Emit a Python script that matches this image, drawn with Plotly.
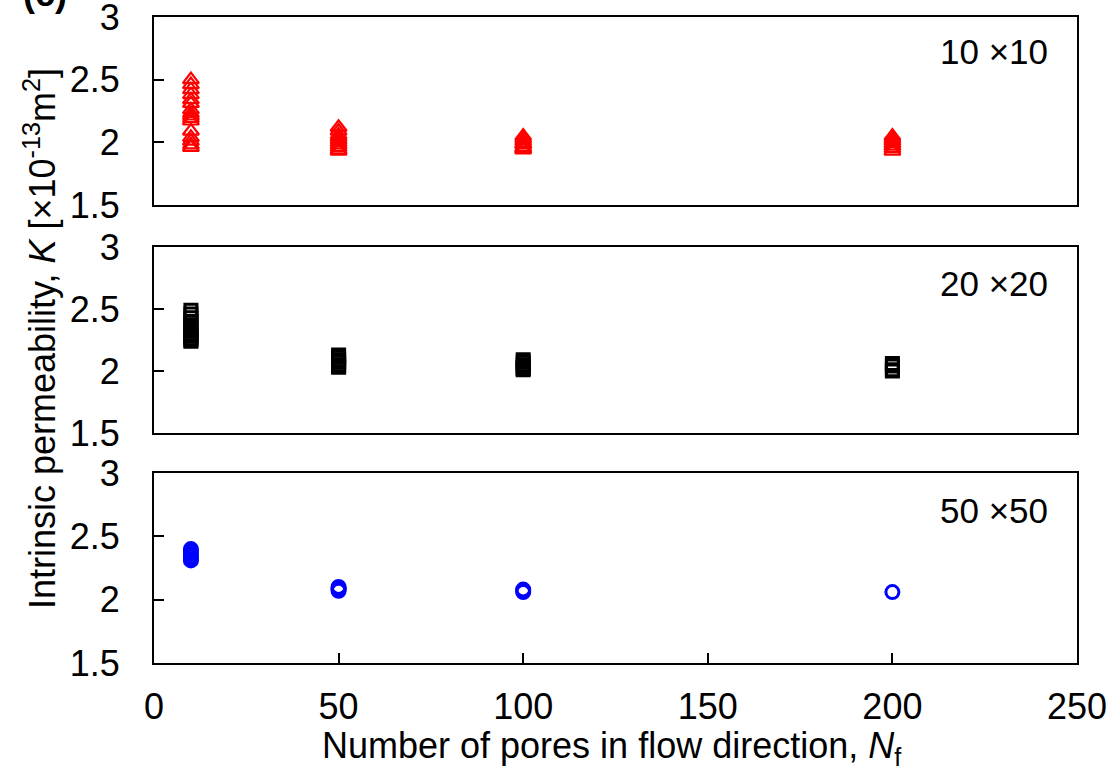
import plotly.graph_objects as go

# ---------------- data ----------------
Nf = [10, 50, 100, 200]

# 10x10 network (red open triangles)
K10_at10 = [2.50, 2.46, 2.42, 2.38, 2.34, 2.31, 2.26, 2.23, 2.21, 2.19, 2.17, 2.09, 2.04, 2.01, 1.98, 1.96]
K10_at50 = [2.12, 2.09, 2.06, 2.04, 2.02, 2.00, 1.98, 1.96, 1.94, 1.93]
K10_at100 = [2.05, 2.03, 2.01, 1.99, 1.98, 1.96, 1.95, 1.94]
K10_at200 = [2.05, 2.03, 2.01, 1.99, 1.97, 1.95, 1.93]

# 20x20 network (black open squares)
K20_at10 = [2.49, 2.46, 2.43, 2.40, 2.37, 2.35, 2.32, 2.30, 2.28, 2.26, 2.25, 2.24]
K20_at50 = [2.13, 2.11, 2.09, 2.07, 2.05, 2.04, 2.03]
K20_at100 = [2.09, 2.07, 2.05, 2.03, 2.02, 2.01]
K20_at200 = [2.06, 2.04, 2.01, 2.00]

# 50x50 network (blue open circles)
K50_at10 = [2.40, 2.38, 2.36, 2.34, 2.32, 2.31]
K50_at50 = [2.10, 2.09, 2.08, 2.07]
K50_at100 = [2.08, 2.07, 2.06]
K50_at200 = [2.06]

panel_labels = ["10 \u00d710", "20 \u00d720", "50 \u00d750"]
y_ticks = [1.5, 2, 2.5, 3]
y_ticktext = ["1.5", "2", "2.5", "3"]
x_ticks = [0, 50, 100, 150, 200, 250]
x_ticktext = ["0", "50", "100", "150", "200", "250"]

panels = [
    ([K10_at10, K10_at50, K10_at100, K10_at200], "triangle-up-open", "#ff0000", 14, 2.2),
    ([K20_at10, K20_at50, K20_at100, K20_at200], "square-open", "#000000", 12, 3),
    ([K50_at10, K50_at50, K50_at100, K50_at200], "circle-open", "#0000ff", 13, 3),
]

FONT = "Liberation Sans, Arial, sans-serif"

fig = go.Figure()
for i, (groups, sym, col, sz, lw) in enumerate(panels):
    xs, ys = [], []
    for n, vals in zip(Nf, groups):
        xs += [n] * len(vals)
        ys += vals
    suffix = "" if i == 0 else str(i + 1)
    fig.add_trace(go.Scatter(
        x=xs, y=ys, mode="markers",
        marker=dict(symbol=sym, color=col, size=sz, line=dict(color=col, width=lw)),
        xaxis="x" + suffix, yaxis="y" + suffix, showlegend=False, hoverinfo="skip",
    ))

# layout geometry (paper fractions)
domains = [[0.709, 1.0], [0.356, 0.644], [0.0, 0.294]]

axis_common = dict(showline=True, mirror=True, linecolor="black", linewidth=2,
                   showgrid=False, zeroline=False, automargin=False,
                   ticklabeloverflow="allow")

layout = dict(
    width=1119, height=771,
    margin=dict(l=154, r=42, t=17, b=108),
    paper_bgcolor="white", plot_bgcolor="rgba(0,0,0,0)",
    font=dict(family=FONT, size=36, color="black"),
    showlegend=False, hovermode=False,
)
for i in range(3):
    suffix = "" if i == 0 else str(i + 1)
    last = i == 2
    layout["xaxis" + suffix] = dict(
        axis_common, domain=[0, 1], range=[0, 250], anchor="y" + suffix,
        tickvals=x_ticks, ticktext=x_ticktext,
        ticks="inside" if last else "", ticklen=10, tickwidth=1.5, tickcolor="black",
        showticklabels=last, ticklabelstandoff=11,
        tickfont=dict(family=FONT, size=36),
    )
    layout["yaxis" + suffix] = dict(
        axis_common, domain=domains[i], range=[1.5, 3], anchor="x" + suffix,
        tickvals=y_ticks, ticktext=y_ticktext,
        ticks="inside", ticklen=10, tickwidth=2, tickcolor="black",
        ticklabelstandoff=25, tickfont=dict(family=FONT, size=36),
    )
fig.update_layout(**layout)

def px_x(p):
    return (p - 154) / 923.0

def px_y(p):
    return (663 - p) / 646.0

annotations = []
for lab, ypix in zip(panel_labels, [52, 283, 510]):
    annotations.append(dict(text=lab, xref="paper", yref="paper", x=px_x(1050), y=px_y(ypix),
                            xanchor="right", yanchor="middle", showarrow=False,
                            font=dict(family=FONT, size=35, color="black")))

annotations.append(dict(
    text="Intrinsic permeability, <i>K</i> [\u00d710<sup>-13</sup>m<sup>2</sup>]",
    xref="paper", yref="paper", x=px_x(40), y=px_y(339), textangle=-90,
    xanchor="center", yanchor="middle", showarrow=False,
    font=dict(family=FONT, size=36, color="black")))

annotations.append(dict(
    text="Number of pores in flow direction, <i>N</i><sub>f</sub>",
    xref="paper", yref="paper", x=px_x(612), y=px_y(748),
    xanchor="center", yanchor="middle", showarrow=False,
    font=dict(family=FONT, size=36, color="black")))

annotations.append(dict(
    text="<b>(c)</b>", xref="paper", yref="paper", x=px_x(45), y=px_y(16),
    xanchor="center", yanchor="bottom", showarrow=False,
    font=dict(family=FONT, size=36, color="black")))

fig.update_layout(annotations=annotations)

fig.write_html("out.html")
